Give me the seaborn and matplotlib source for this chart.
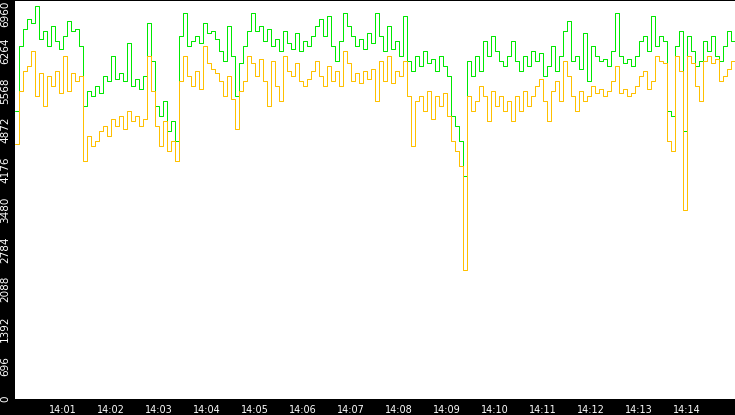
import numpy as np
import pandas as pd
import matplotlib
matplotlib.use('Agg')
import matplotlib.pyplot as plt
import matplotlib.dates as mdates
import matplotlib.transforms as mtransforms
import seaborn as sns

# one reading every 5 s, 14:00:00 .. 14:15:00
times = pd.date_range('2024-01-01 14:00:00', '2024-01-01 14:15:00', freq='5s')

green_vals = [
    5041, 6175, 6472, 6646, 6576, 6873, 6297, 6437, 6175, 6524,
    6262, 6123, 6349, 6611, 6437, 6472, 6175, 5128, 5390, 5303,
    5477, 5355, 5652, 5564, 6001, 5599, 5704, 5564, 6227, 5477,
    5599, 5425, 5652, 6576, 5913, 5128, 4954, 5216, 4692, 4867,
    4518, 6349, 6751, 6175, 6262, 6349, 6227, 6576, 6402, 6437,
    6297, 6088, 5913, 6524, 6001, 5303, 5878, 6175, 6437, 6751,
    6437, 6524, 6262, 6472, 6175, 6297, 6088, 6437, 6227, 6123,
    6402, 6088, 6262, 6175, 6349, 6524, 6646, 6349, 6698, 6175,
    5913, 6262, 6751, 6524, 6349, 6175, 6297, 6123, 6402, 6227,
    6751, 6349, 6088, 6524, 6123, 6262, 6001, 6698, 5913, 5739,
    6001, 5826, 6088, 5878, 5948, 5739, 6001, 5826, 5652, 4954,
    4780, 4518, 3907, 5913, 5652, 6001, 5739, 6262, 6001, 6349,
    6088, 5913, 5826, 6001, 6262, 5913, 5739, 6001, 5826, 6088,
    5913, 6053, 5652, 5826, 6175, 5739, 6001, 6437, 6611, 5913,
    6001, 5774, 6402, 5564, 6175, 6001, 5913, 5948, 5826, 6088,
    6751, 6001, 5878, 5948, 5826, 6001, 6262, 6349, 6088, 6698,
    6175, 6349, 6262, 5041, 4954, 6175, 6437, 4692, 6349, 6088,
    5826, 5913, 6262, 6088, 6349, 6001, 5913, 6175, 6437, 6262,
    3087,
]

orange_vals = [
    4466, 5390, 5739, 5826, 6088, 5303, 5704, 5128, 5652, 5477,
    5739, 5355, 6001, 5390, 5704, 5564, 5652, 4169, 4605, 4431,
    4518, 4692, 4780, 4605, 4902, 4780, 4954, 4727, 5041, 4867,
    4954, 4780, 4902, 6001, 5390, 4780, 4431, 4867, 4344, 4518,
    4169, 5564, 6001, 5652, 5477, 5739, 5425, 6175, 5878, 5774,
    5704, 5564, 5303, 5652, 5250, 4727, 5390, 5564, 6001, 5878,
    5652, 5948, 5564, 5128, 5913, 5477, 5216, 6001, 5739, 5652,
    5878, 5564, 5477, 5599, 5739, 5913, 5652, 5477, 5826, 5564,
    5739, 5477, 6088, 5878, 5564, 5704, 5530, 5739, 5599, 5774,
    5216, 5913, 5564, 6001, 5530, 5739, 5652, 5913, 5303, 4431,
    5216, 5303, 5041, 5390, 4902, 5303, 5128, 5355, 4954, 4518,
    4344, 4082, 2250, 5303, 5041, 5216, 5477, 5303, 4867, 5390,
    5128, 5303, 5041, 5216, 4867, 5303, 5041, 5390, 5128, 5303,
    5477, 5599, 5216, 4867, 5390, 5564, 5216, 5913, 5652, 5303,
    5041, 5390, 5216, 5303, 5477, 5355, 5425, 5303, 5390, 5564,
    5826, 5355, 5425, 5303, 5355, 5477, 5652, 5739, 5425, 5564,
    6001, 5913, 5878, 4518, 4344, 6001, 5739, 3297, 6001, 5878,
    5477, 5216, 5913, 6001, 5878, 5948, 5564, 5652, 5774, 5913,
    0,
]

y_ticks = list(range(0, 6961, 696))
x_ticks = pd.date_range('2024-01-01 14:01:00', '2024-01-01 14:14:00', freq='1min')

df = pd.concat([
    pd.DataFrame({'time': times, 'value': green_vals, 'series': 'green'}),
    pd.DataFrame({'time': times, 'value': orange_vals, 'series': 'orange'}),
])

sns.set_style('white')
plt.rcParams['font.family'] = ['DejaVu Sans']

fig = plt.figure(figsize=(7.35, 4.15), dpi=100, facecolor='black')
ax = fig.add_axes([15 / 735, 16 / 415, 720 / 735, 398 / 415])
ax.set_facecolor('white')

sns.lineplot(data=df, x='time', y='value', hue='series',
             hue_order=['green', 'orange'],
             palette={'green': '#00e800', 'orange': '#ffc000'},
             drawstyle='steps-post', linewidth=0.72, snap=True,
             legend=False, ax=ax)

ax.set_xlim(times[0], times[-1])
ax.set_ylim(0, 6960)
ax.set_xlabel('')
ax.set_ylabel('')
for s in ax.spines.values():
    s.set_visible(False)

ax.set_xticks(x_ticks)
ax.xaxis.set_major_formatter(mdates.DateFormatter('%H:%M'))
ax.set_yticks(y_ticks)
ax.set_yticklabels([str(v) for v in y_ticks], rotation=90, va='top', fontsize=7.5)
ax.tick_params(axis='both', colors='white', length=3, width=1, pad=0.5)
ax.tick_params(axis='x', labelsize=7, length=4)

# lift the rotated labels a little above their tick (not the top one)
offset = mtransforms.ScaledTranslation(0, 0.035, fig.dpi_scale_trans)
for lab in ax.get_yticklabels()[:-1]:
    lab.set_transform(lab.get_transform() + offset)

fig.savefig('out.png', dpi=100, facecolor='black')
